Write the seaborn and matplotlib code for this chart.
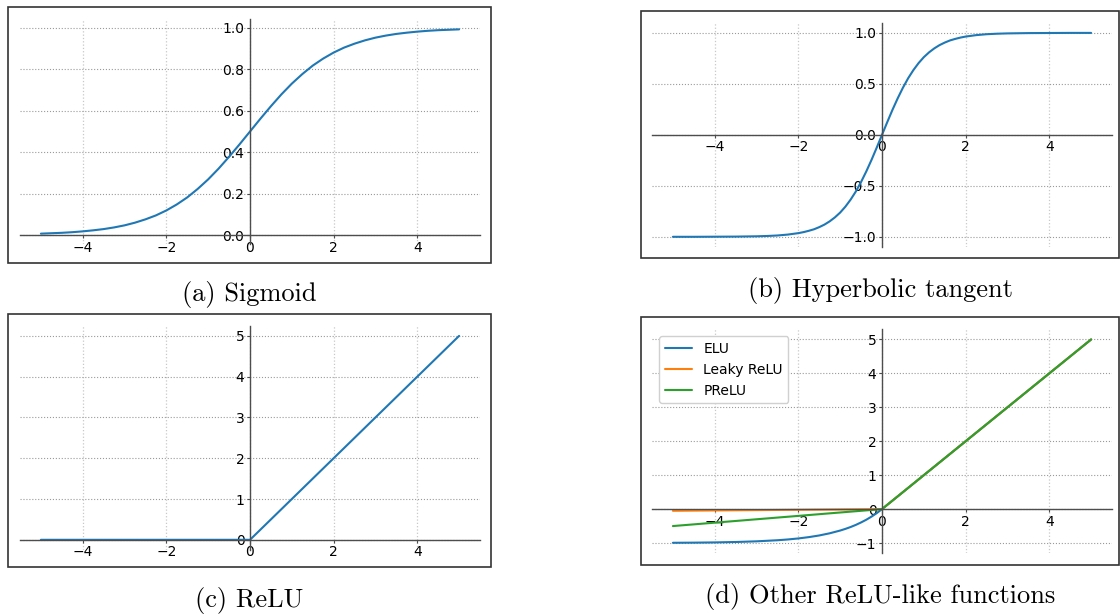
import matplotlib
matplotlib.use("Agg")
import matplotlib.pyplot as plt
from matplotlib.patches import Rectangle
import seaborn as sns

# values
x_smooth = [-5, -4.75, -4.5, -4.25, -4, -3.75, -3.5, -3.25, -3, -2.75, -2.5, -2.25, -2, -1.75, -1.5,
            -1.25, -1, -0.75, -0.5, -0.25, 0, 0.25, 0.5, 0.75, 1, 1.25, 1.5, 1.75, 2, 2.25, 2.5,
            2.75, 3, 3.25, 3.5, 3.75, 4, 4.25, 4.5, 4.75, 5]
sigmoid_y = [0.007, 0.009, 0.011, 0.014, 0.018, 0.023, 0.029, 0.037, 0.047, 0.060, 0.076, 0.095, 0.119,
             0.148, 0.182, 0.223, 0.269, 0.321, 0.378, 0.438, 0.5, 0.562, 0.622, 0.679, 0.731, 0.777,
             0.818, 0.852, 0.881, 0.905, 0.924, 0.940, 0.953, 0.963, 0.971, 0.977, 0.982, 0.986,
             0.989, 0.991, 0.993]

x_tanh = [-5, -4.5, -4, -3.5, -3, -2.75, -2.5, -2.25, -2, -1.875, -1.75, -1.625, -1.5, -1.375, -1.25,
          -1.125, -1, -0.875, -0.75, -0.625, -0.5, -0.375, -0.25, -0.125, 0, 0.125, 0.25, 0.375, 0.5,
          0.625, 0.75, 0.875, 1, 1.125, 1.25, 1.375, 1.5, 1.625, 1.75, 1.875, 2, 2.25, 2.5, 2.75, 3,
          3.5, 4, 4.5, 5]
tanh_y = [-1.0, -1.0, -0.999, -0.998, -0.995, -0.992, -0.987, -0.978, -0.964, -0.954, -0.941, -0.926,
          -0.905, -0.880, -0.848, -0.809, -0.762, -0.704, -0.635, -0.555, -0.462, -0.358, -0.245, -0.124,
          0.0, 0.124, 0.245, 0.358, 0.462, 0.555, 0.635, 0.704, 0.762, 0.809, 0.848, 0.880, 0.905,
          0.926, 0.941, 0.954, 0.964, 0.978, 0.987, 0.992, 0.995, 0.998, 0.999, 1.0, 1.0]

x_kink = [-5, 0, 5]
relu_y = [0, 0, 5]

x_elu = [-5, -4.5, -4, -3.5, -3, -2.5, -2.25, -2, -1.75, -1.5, -1.25, -1, -0.875, -0.75, -0.625,
         -0.5, -0.375, -0.25, -0.125, 0, 5]
elu_y = [-0.993, -0.989, -0.982, -0.970, -0.950, -0.918, -0.895, -0.865, -0.826, -0.777, -0.713,
         -0.632, -0.583, -0.528, -0.465, -0.393, -0.313, -0.221, -0.118, 0.0, 5.0]
leaky_y = [-0.05, 0, 5]
prelu_y = [-0.5, 0, 5]

captions = ["(a) Sigmoid", "(b) Hyperbolic tangent", "(c) ReLU", "(d) Other ReLU-like functions"]

sns.set_style("white")
plt.rcParams["font.family"] = ["DejaVu Sans"]
plt.rcParams["text.color"] = "black"
plt.rcParams["xtick.color"] = "black"
plt.rcParams["ytick.color"] = "black"

W, H = 1120, 614
fig = plt.figure(figsize=(W / 100, H / 100), dpi=100)


def px_axes(left, top, right, bottom):
    return fig.add_axes([left / W, 1 - bottom / H, (right - left) / W, (bottom - top) / H])


def style_axes(ax):
    for side in ["top", "right"]:
        ax.spines[side].set_visible(False)
    for side in ["left", "bottom"]:
        ax.spines[side].set_position("zero")
        ax.spines[side].set_color("0.3")
        ax.spines[side].set_linewidth(1.0)
    ax.xaxis.grid(True, color="#c8c8c8", linestyle=":", linewidth=0.9)
    ax.yaxis.grid(True, color="#9a9a9a", linestyle=":", linewidth=0.8)
    ax.set_axisbelow(True)
    ax.tick_params(axis="both", labelsize=10, length=2.5, width=0.8, color="0.3",
                   labelcolor="black", left=True, bottom=True, pad=1.5)
    ax.set_xticks([-4, -2, 0, 2, 4])
    ax.set_xlabel("")
    ax.set_ylabel("")


blue, orange, green = "#1f77b4", "#ff7f0e", "#2ca02c"

ax_a = px_axes(20, 19, 480, 244)
sns.lineplot(x=x_smooth, y=sigmoid_y, ax=ax_a, color=blue, linewidth=1.5)
style_axes(ax_a)
ax_a.set_xlim(-5.5, 5.5)
ax_a.set_ylim(-0.043, 1.043)
ax_a.set_yticks([0.0, 0.2, 0.4, 0.6, 0.8, 1.0])

ax_b = px_axes(652, 22.7, 1112, 247)
sns.lineplot(x=x_tanh, y=tanh_y, ax=ax_b, color=blue, linewidth=1.5)
style_axes(ax_b)
ax_b.set_xlim(-5.5, 5.5)
ax_b.set_ylim(-1.1, 1.1)
ax_b.set_yticks([-1.0, -0.5, 0.0, 0.5, 1.0])

ax_c = px_axes(20, 325.7, 480, 550)
sns.lineplot(x=x_kink, y=relu_y, ax=ax_c, color=blue, linewidth=1.5)
style_axes(ax_c)
ax_c.set_xlim(-5.5, 5.5)
ax_c.set_ylim(-0.25, 5.25)
ax_c.set_yticks([0, 1, 2, 3, 4, 5])

ax_d = px_axes(652, 329.3, 1112, 553.2)
sns.lineplot(x=x_elu, y=elu_y, ax=ax_d, color=blue, linewidth=1.5, label="ELU")
sns.lineplot(x=x_kink, y=leaky_y, ax=ax_d, color=orange, linewidth=1.5, label="Leaky ReLU")
sns.lineplot(x=x_kink, y=prelu_y, ax=ax_d, color=green, linewidth=1.5, label="PReLU")
style_axes(ax_d)
ax_d.set_xlim(-5.5, 5.5)
ax_d.set_ylim(-1.3, 5.3)
ax_d.set_yticks([-1, 0, 1, 2, 3, 4, 5])
ax_d.legend(loc="upper left", fontsize=10, frameon=True, edgecolor="#d0d0d0", framealpha=1.0,
            borderpad=0.4, handlelength=2.0)

# framed panels and captions below them
frames = [(8, 7, 491, 263), (641, 11, 1119, 258), (8, 314, 491, 567), (641, 317, 1119, 565)]
caption_y = [294, 290, 600, 596]
for (l, t, r, b), cap, cy in zip(frames, captions, caption_y):
    fig.patches.append(Rectangle((l / W, 1 - b / H), (r - l) / W, (b - t) / H,
                                 transform=fig.transFigure, fill=False,
                                 edgecolor="#333333", linewidth=1.2))
    fig.text((l + r) / 2 / W, 1 - cy / H, cap, ha="center", va="center",
             fontsize=19, family=["cmr10", "DejaVu Serif"])

fig.savefig("out.png", dpi=100)
